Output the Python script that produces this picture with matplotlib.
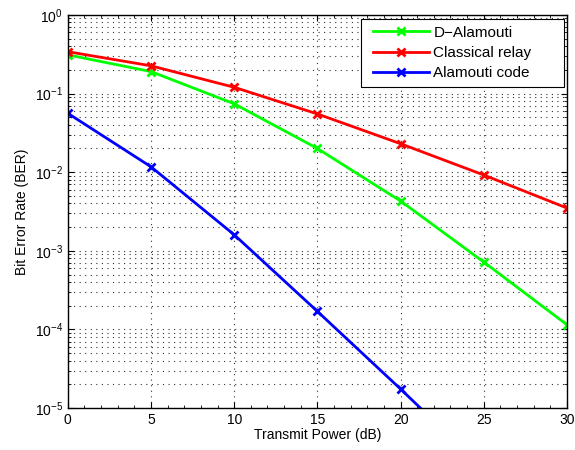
import matplotlib
matplotlib.use("Agg")
import matplotlib.pyplot as plt
from matplotlib.ticker import LogLocator, MultipleLocator, NullFormatter
from matplotlib.legend_handler import HandlerLine2D
from matplotlib.lines import Line2D

power_db = [0, 5, 10, 15, 20, 25, 30]
ber_d_alamouti = [0.31, 0.19, 0.074, 0.020, 0.0043, 7.2e-4, 1.15e-4]
ber_classical = [0.34, 0.225, 0.12, 0.055, 0.023, 0.0092, 0.0035]
ber_alamouti = [0.056, 0.0117, 1.6e-3, 1.7e-4, 1.75e-5, 1.7e-6, 1.6e-7]

plt.rcParams['font.family'] = ['Liberation Sans', 'DejaVu Sans']

fig = plt.figure(figsize=(5.75, 4.5), dpi=100)
ax = fig.add_axes([0.118, 0.093, 0.868, 0.874])

ax.semilogy(power_db, ber_d_alamouti, color='#00ff00', marker='x', lw=2, ms=6, mew=2, label='D\u2212Alamouti')
ax.semilogy(power_db, ber_classical, color='#ff0000', marker='x', lw=2, ms=6, mew=2, label='Classical relay')
ax.semilogy(power_db, ber_alamouti, color='#0000ff', marker='x', lw=2, ms=6, mew=2, label='Alamouti code')

ax.set_xlim(0, 30)
ax.set_ylim(1e-5, 1)
ax.xaxis.set_major_locator(MultipleLocator(5))
ax.xaxis.set_minor_locator(MultipleLocator(1))
ax.yaxis.set_major_locator(LogLocator(base=10, numticks=10))
ax.yaxis.set_minor_locator(LogLocator(base=10, subs=range(2, 10), numticks=20))
ax.yaxis.set_minor_formatter(NullFormatter())

ax.xaxis.grid(True, which='major', linestyle=(0, (1, 4)), color='#333333', lw=0.8)
ax.yaxis.grid(True, which='both', linestyle=(0, (1, 4)), color='#333333', lw=0.8)
ax.tick_params(which='both', direction='in', top=True, right=True, labelsize=10)
ax.tick_params(which='major', length=4)
ax.tick_params(which='minor', length=2)
for s in ax.spines.values():
    s.set_linewidth(1.0)

ax.set_xlabel('Transmit Power (dB)', fontsize=10, labelpad=1)
ax.set_ylabel('Bit Error Rate (BER)', fontsize=10)

leg = ax.legend(loc='upper right', bbox_to_anchor=(0.587, 0.5, 0.407, 0.49),
                mode='expand', fontsize=11, fancybox=False, framealpha=1,
                edgecolor='black', borderaxespad=0, handlelength=4.0,
                handletextpad=0.3, labelspacing=0.42, borderpad=0.45,
                handler_map={Line2D: HandlerLine2D(xpad=0.35)})
leg.get_frame().set_linewidth(0.8)

fig.savefig('out.png', dpi=100)
